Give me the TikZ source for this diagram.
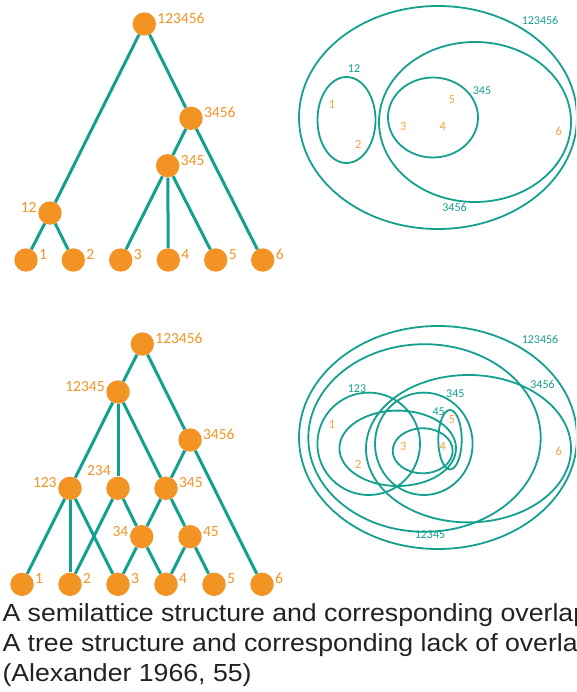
\documentclass[tikz,border=0pt]{standalone}
\usepackage{graphicx}
\usepackage{fontspec}
\setmainfont{Liberation Sans}
\newfontfamily\labfont{Carlito}
\definecolor{teal1}{HTML}{13A08F}
\definecolor{orng}{HTML}{F39323}
\definecolor{capc}{HTML}{222222}
\newcommand{\captext}[1]{\scalebox{1.08}[1]{#1}}
\begin{document}
\begin{tikzpicture}[x=1pt,y=-1pt,
 tn/.style={circle,fill=orng,minimum size=23.4pt,inner sep=0pt},
 edge/.style={draw=teal1,line width=3pt},
 tl/.style={font=\labfont\fontsize{15.5}{16}\selectfont,text=orng,inner sep=0pt},
 vset/.style={draw=teal1,line width=1.8pt},
 vl/.style={font=\labfont\fontsize{12}{12}\selectfont,text=teal1,inner sep=0pt},
 vn/.style={font=\labfont\fontsize{12.5}{12}\selectfont,text=orng!85!white,inner sep=0pt},
 captxt/.style={font=\fontsize{24.7}{28}\selectfont,text=capc,inner sep=0pt,anchor=base west},
 rlab/.style={label={[tl,anchor=west,xshift=1pt,yshift=5.5pt]east:#1}},
 llab/.style={label={[tl,anchor=east,xshift=-1.3pt,yshift=5.5pt]west:#1}},
]
\useasboundingbox (0,0) rectangle (576,692);
\clip (0,0) rectangle (576,692);

% ---------- Tree (top) ----------
\node[tn,rlab=123456] (a0) at (144.3,24) {};
\node[tn,rlab=3456] (a3456) at (191,118.3) {};
\node[tn,rlab=345] (a345) at (167.7,165.7) {};
\node[tn,llab=12] (a12) at (50,213) {};
\node[tn,rlab=1] (a1) at (26,260) {};
\node[tn,rlab=2] (a2) at (73.3,260) {};
\node[tn,rlab=3] (a3) at (120.7,260) {};
\node[tn,rlab=4] (a4) at (168.3,260) {};
\node[tn,rlab=5] (a5) at (215.7,260) {};
\node[tn,rlab=6] (a6) at (262.7,260) {};
\draw[edge] (a0) -- (a12);
\draw[edge] (a0) -- (a3456);
\draw[edge] (a3456) -- (a345);
\draw[edge] (a3456) -- (a6);
\draw[edge] (a345) -- (a3);
\draw[edge] (a345) -- (a4);
\draw[edge] (a345) -- (a5);
\draw[edge] (a12) -- (a1);
\draw[edge] (a12) -- (a2);

% ---------- Venn (top) ----------
\draw[vset] (438,117.5) ellipse [x radius=139, y radius=111.5];
\draw[vset] (475,122) ellipse [x radius=96, y radius=80];
\draw[vset] (346.5,120) ellipse [x radius=29, y radius=43];
\draw[vset] (433,117.5) ellipse [x radius=45, y radius=40];
\node[vl] (va123456) at (540,20) {123456};
\node[vl] (va3456) at (454.5,207) {3456};
\node[vl] (va12) at (354,68.3) {12};
\node[vl] (va345) at (482,91) {345};
\node[vn] (van1) at (332,104.3) {1};
\node[vn] (van2) at (358.3,144.3) {2};
\node[vn] (van3) at (403.3,126.7) {3};
\node[vn] (van4) at (442.7,126.7) {4};
\node[vn] (van5) at (451.7,100) {5};
\node[vn] (van6) at (558.7,131) {6};

% ---------- Semilattice (bottom) ----------
\node[tn,rlab=123456] (b0) at (142.3,344) {};
\node[tn,llab=12345] (b12345) at (118,392) {};
\node[tn,rlab=3456] (b3456) at (190,440) {};
\node[tn,llab=123] (b123) at (70,488.3) {};
\node[tn,label={[tl,anchor=east,xshift=4.7pt,yshift=17.6pt]west:234}] (b234) at (118,488.3) {};
\node[tn,rlab=345] (b345) at (166,488.3) {};
\node[tn,llab=34] (b34) at (141.7,536.7) {};
\node[tn,rlab=45] (b45) at (190,536.7) {};
\node[tn,rlab=1] (b1) at (22,584.3) {};
\node[tn,rlab=2] (b2) at (70,584.3) {};
\node[tn,rlab=3] (b3) at (118,584.3) {};
\node[tn,rlab=4] (b4) at (166,584.3) {};
\node[tn,rlab=5] (b5) at (214,584.3) {};
\node[tn,rlab=6] (b6) at (262,584.3) {};
\draw[edge] (b0) -- (b12345);
\draw[edge] (b0) -- (b3456);
\draw[edge] (b12345) -- (b123);
\draw[edge] (b12345) -- (b234);
\draw[edge] (b12345) -- (b345);
\draw[edge] (b3456) -- (b345);
\draw[edge] (b3456) -- (b6);
\draw[edge] (b123) -- (b1);
\draw[edge] (b123) -- (b2);
\draw[edge] (b123) -- (b3);
\draw[edge] (b234) -- (b2);
\draw[edge] (b234) -- (b34);
\draw[edge] (b345) -- (b34);
\draw[edge] (b345) -- (b45);
\draw[edge] (b34) -- (b3);
\draw[edge] (b34) -- (b4);
\draw[edge] (b45) -- (b4);
\draw[edge] (b45) -- (b5);

% ---------- Venn (bottom) ----------
\draw[vset] (438,437.5) ellipse [x radius=139, y radius=111.5];
\draw[vset] (424.5,438) ellipse [x radius=116.2, y radius=93.8];
\draw[vset] (468.5,448.7) ellipse [x radius=102.5, y radius=73.7];
\draw[vset] (368.7,443.8) ellipse [x radius=51.3, y radius=51.2];
\draw[vset] (423.8,443.8) ellipse [x radius=48.8, y radius=51.2];
\draw[vset] (397.7,448.3) ellipse [x radius=58.3, y radius=37.7];
\draw[vset] (422.7,450.8) ellipse [x radius=30, y radius=22.5];
\draw[vset] (450,439.7) ellipse [x radius=11.7, y radius=29.7];
\node[vl] (vb123456) at (540,339.3) {123456};
\node[vl] (vb12345) at (430,535) {12345};
\node[vl] (vb3456) at (542.5,384) {3456};
\node[vl] (vb123) at (357,388.3) {123};
\node[vl] (vb345) at (455.3,393.3) {345};
\node[vl] (vb45) at (438.7,411.7) {45};
\node[vn] (vbn1) at (332,424.3) {1};
\node[vn] (vbn2) at (358.3,464.3) {2};
\node[vn] (vbn3) at (403.3,446.7) {3};
\node[vn] (vbn4) at (442.7,446.7) {4};
\node[vn] (vbn5) at (451.7,420) {5};
\node[vn] (vbn6) at (558.7,451) {6};

% ---------- Caption ----------
\node[captxt] (cap1) at (2.3,621) {\captext{A semilattice structure and corresponding overlap}};
\node[captxt] (cap2) at (2.3,651) {\captext{A tree structure and corresponding lack of overlap}};
\node[captxt] (cap3) at (2.3,681.3) {\captext{(Alexander 1966, 55)}};
\end{tikzpicture}
\end{document}
